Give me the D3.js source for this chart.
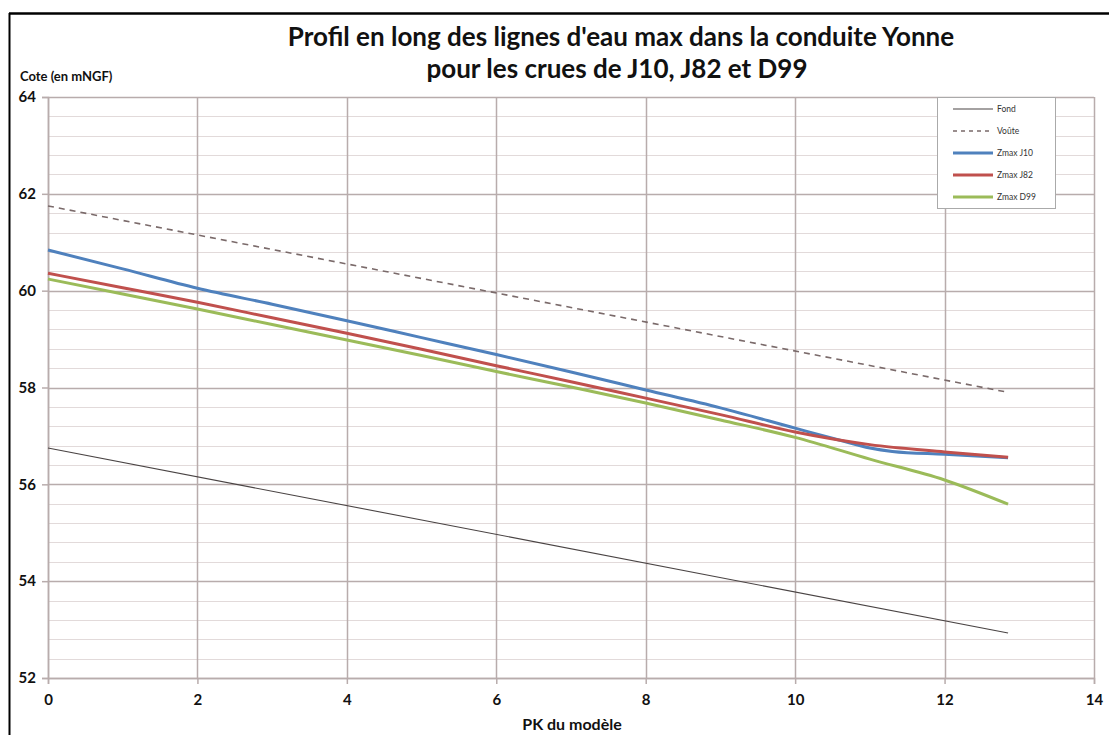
<!DOCTYPE html>
<html>
<head>
<meta charset="utf-8">
<script src="https://cdn.jsdelivr.net/npm/d3@7"></script>
<style>
  body { margin: 0; background: #fff; }
  svg { display: block; font-family: Lato, 'Open Sans', sans-serif; }
</style>
</head>
<body>
<div class="svg-container"></div>
<script>
const w = 1109;
const h = 735;

// PK du modèle (km) et cotes (mNGF)
const pkFond = [0, 12.85];
const zFond = [56.75, 52.93];

const pkVoute = [0, 12.85];
const zVoute = [61.75, 57.9];

const pkJ10 = [0, 1, 2, 3, 4, 5, 6, 7, 8, 9, 10, 10.6, 11, 11.3, 12, 12.85];
const zJ10 = [60.84, 60.45, 60.05, 59.72, 59.38, 59.03, 58.68, 58.32, 57.95, 57.58, 57.16, 56.91, 56.75, 56.68, 56.62, 56.55];

const pkJ82 = [0, 1, 2, 3, 4, 5, 6, 7, 8, 9, 10, 11, 12, 12.85];
const zJ82 = [60.36, 60.06, 59.76, 59.44, 59.12, 58.79, 58.45, 58.12, 57.78, 57.44, 57.08, 56.82, 56.67, 56.56];

const pkD99 = [0, 1, 2, 3, 4, 5, 6, 7, 8, 9, 10, 11, 12, 12.85];
const zD99 = [60.24, 59.93, 59.62, 59.3, 58.98, 58.66, 58.33, 58.01, 57.68, 57.33, 56.97, 56.52, 56.09, 55.59];

const xTicks = [0, 2, 4, 6, 8, 10, 12, 14];
const yTicks = [52, 54, 56, 58, 60, 62, 64];

const series = [
	{ name: 'Fond', pk: pkFond, z: zFond, color: '#4a4444', width: 1.1, dash: null },
	{ name: 'Voûte', pk: pkVoute, z: zVoute, color: '#7a6a6a', width: 1.6, dash: '6,5' },
	{ name: 'Zmax J10', pk: pkJ10, z: zJ10, color: '#4f81bd', width: 3, dash: null },
	{ name: 'Zmax J82', pk: pkJ82, z: zJ82, color: '#c0504d', width: 3, dash: null },
	{ name: 'Zmax D99', pk: pkD99, z: zD99, color: '#9bbb59', width: 3, dash: null },
];

const svg = d3
	.select('.svg-container')
	.append('svg')
	.attr('width', w)
	.attr('height', h);

// cadre noir de l'image
svg.append('line').attr('x1', 9.5).attr('x2', 9.5).attr('y1', 13).attr('y2', h).attr('stroke', '#000').attr('stroke-width', 2);
svg.append('line').attr('x1', 9).attr('x2', w).attr('y1', 13.5).attr('y2', 13.5).attr('stroke', '#000').attr('stroke-width', 2.5);

const xScale = d3.scaleLinear().domain([0, 14]).range([48, 1094]);
const yScale = d3.scaleLinear().domain([52, 64]).range([678, 97]);

// grille secondaire
svg
	.append('g')
	.selectAll('line')
	.data(d3.range(52, 64.01, 0.4))
	.enter()
	.append('line')
	.attr('x1', xScale(0))
	.attr('x2', xScale(14))
	.attr('y1', d => Math.round(yScale(d)) + 0.5)
	.attr('y2', d => Math.round(yScale(d)) + 0.5)
	.attr('stroke', '#e2dada')
	.attr('stroke-width', 1.2);

// grille principale
svg
	.append('g')
	.selectAll('line')
	.data(yTicks)
	.enter()
	.append('line')
	.attr('x1', xScale(0))
	.attr('x2', xScale(14))
	.attr('y1', d => Math.round(yScale(d)) + 0.5)
	.attr('y2', d => Math.round(yScale(d)) + 0.5)
	.attr('stroke', '#b8acac')
	.attr('stroke-width', 1.5);

svg
	.append('g')
	.selectAll('line')
	.data(xTicks)
	.enter()
	.append('line')
	.attr('x1', d => Math.round(xScale(d)) + 0.5)
	.attr('x2', d => Math.round(xScale(d)) + 0.5)
	.attr('y1', yScale(64))
	.attr('y2', yScale(52))
	.attr('stroke', '#b8acac')
	.attr('stroke-width', 1.5);

const xAxis = d3.axisBottom(xScale).tickValues(xTicks).tickSize(6).tickPadding(10);
const gx = svg
	.append('g')
	.attr('transform', `translate(0, ${yScale(52)})`)
	.call(xAxis);

const yAxis = d3.axisLeft(yScale).tickValues(yTicks).tickSize(6).tickPadding(6);
const gy = svg
	.append('g')
	.attr('transform', `translate(${xScale(0)}, 0)`)
	.call(yAxis);

[gx, gy].forEach(g => {
	g.attr('font-family', null);
	g.select('.domain').attr('stroke', '#b8acac').attr('stroke-width', 1.5);
	g.selectAll('.tick line').attr('stroke', '#b8acac').attr('stroke-width', 1.5);
	g.selectAll('.tick text')
		.style('font-family', 'Lato, sans-serif')
		.style('font-size', '15px')
		.style('font-weight', 'bold')
		.attr('fill', '#111');
});

const line = d3
	.line()
	.x(d => xScale(d[0]))
	.y(d => yScale(d[1]))
	.curve(d3.curveMonotoneX);

series.forEach(s => {
	svg
		.append('path')
		.datum(s.pk.map((p, i) => [p, s.z[i]]))
		.attr('d', line)
		.attr('fill', 'none')
		.attr('stroke', s.color)
		.attr('stroke-width', s.width)
		.attr('stroke-dasharray', s.dash);
});

// légende
const legend = svg.append('g').attr('id', 'legend');
legend
	.append('rect')
	.attr('x', 937.5)
	.attr('y', 97.5)
	.attr('width', 118)
	.attr('height', 111)
	.attr('fill', '#fff')
	.attr('stroke', '#aaa')
	.attr('stroke-width', 1);

series.forEach((s, i) => {
	const g = legend.append('g').attr('transform', `translate(953, ${109 + i * 22})`);
	g.append('line')
		.attr('x1', 0)
		.attr('x2', 40)
		.attr('stroke', s.color)
		.attr('stroke-width', s.width)
		.attr('stroke-dasharray', s.dash ? '4,4' : null);
	g.append('text')
		.attr('x', 44)
		.attr('y', 3)
		.style('font-size', '8.5px')
		.attr('fill', '#333')
		.text(s.name);
});

// titres
const title = svg
	.append('text')
	.attr('text-anchor', 'middle')
	.style('font-size', '26px')
	.style('font-weight', 'bold')
	.attr('fill', '#111');
title.append('tspan').attr('x', 621).attr('y', 46).text("Profil en long des lignes d'eau max dans la conduite Yonne");
title.append('tspan').attr('x', 617).attr('y', 78).text('pour les crues de J10, J82 et D99');

svg
	.append('text')
	.attr('x', 20)
	.attr('y', 81)
	.style('font-size', '13px')
	.style('font-weight', 'bold')
	.attr('fill', '#111')
	.text('Cote (en mNGF)');

svg
	.append('text')
	.attr('x', 572)
	.attr('y', 730)
	.attr('text-anchor', 'middle')
	.style('font-size', '16px')
	.style('font-weight', 'bold')
	.attr('fill', '#111')
	.text('PK du modèle');
</script>
</body>
</html>
